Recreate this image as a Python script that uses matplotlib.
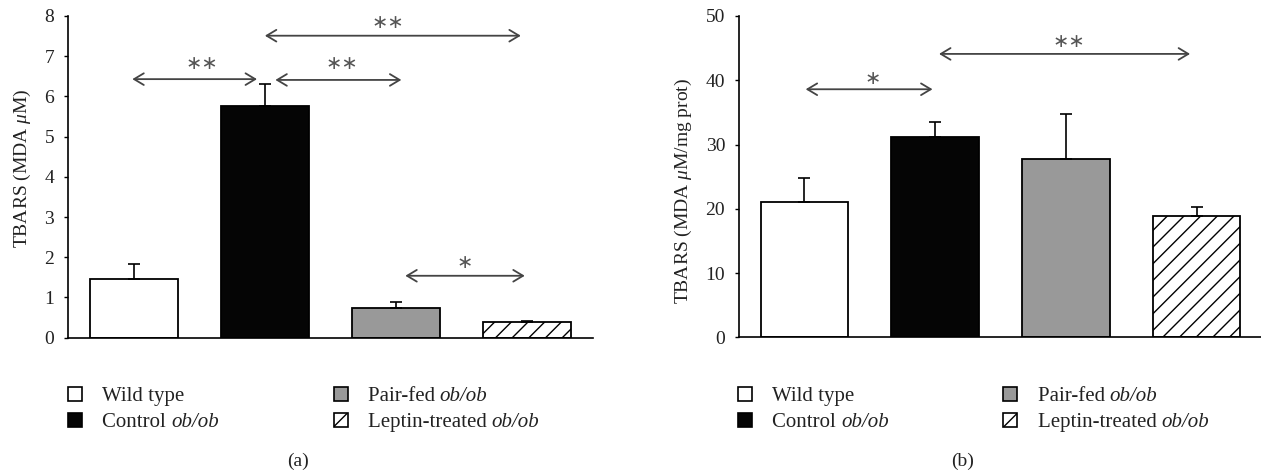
import matplotlib
matplotlib.use("Agg")
import matplotlib.pyplot as plt
from matplotlib.patches import Rectangle
from matplotlib.lines import Line2D
import numpy as np

plt.rcParams["font.family"] = ["Liberation Serif", "DejaVu Serif"]
plt.rcParams["mathtext.fontset"] = "custom"
plt.rcParams["mathtext.rm"] = "Liberation Serif"
plt.rcParams["mathtext.it"] = "Liberation Serif:italic"
plt.rcParams["hatch.linewidth"] = 1.0

groups = ["Wild type", "Control ob/ob", "Pair-fed ob/ob", "Leptin-treated ob/ob"]
# legend text split in upright part and italic part
legend_plain = ["Wild type", "Control ", "Pair-fed ", "Leptin-treated "]
legend_italic = ["", "ob/ob", "ob/ob", "ob/ob"]
face_colors = ["white", "#050505", "#999999", "white"]
hatches = ["", "", "", "//"]

# panel (a): TBARS, MDA uM
tbars_a = [1.46, 5.76, 0.73, 0.40]
err_a = [0.37, 0.56, 0.15, 0.02]
# significance brackets: (x start, x end, y, label, label x, label y)
sig_a = [
    (-0.01, 0.94, 6.43, "∗∗", 0.52, 6.83),
    (1.08, 2.04, 6.41, "∗∗", 1.59, 6.83),
    (1.00, 2.95, 7.51, "∗∗", 1.94, 7.83),
    (2.07, 2.98, 1.54, "∗", 2.52, 1.88),
]

# panel (b): TBARS, MDA uM/mg prot
tbars_b = [21.0, 31.2, 27.7, 18.8]
err_b = [3.8, 2.3, 7.0, 1.5]
sig_b = [
    (0.01, 0.98, 38.6, "∗", 0.52, 40.2),
    (1.03, 2.95, 44.1, "∗∗", 2.02, 46.0),
]


def draw_panel(ax, vals, errs, sigs, ymax, ystep, ylabel, label_xy):
    x = np.arange(len(vals))
    ax.bar(x, vals, width=0.67, color=face_colors, edgecolor="black",
           linewidth=1.3, hatch=hatches, zorder=2)
    ax.errorbar(x, vals, yerr=[np.zeros(len(errs)), errs], fmt="none",
                ecolor="black", elinewidth=1.2, capsize=4, capthick=1.2, zorder=3)
    for x0, x1, y, txt, tx, ty in sigs:
        ax.annotate("", xy=(x1, y), xytext=(x0, y),
                    arrowprops=dict(arrowstyle="<->,head_length=0.5,head_width=0.3",
                                    color="#444444", lw=1.3, shrinkA=0, shrinkB=0,
                                    mutation_scale=14))
        ax.text(tx, ty, txt, ha="center", va="center", fontsize=14,
                color="#555555", family="DejaVu Sans")
    ax.set_xlim(-0.5, 3.5)
    ax.set_ylim(0, ymax)
    ax.set_yticks(np.arange(0, ymax + ystep / 2, ystep))
    ax.set_xticks([])
    ax.spines["top"].set_visible(False)
    ax.spines["right"].set_visible(False)
    ax.spines["left"].set_linewidth(1.2)
    ax.spines["bottom"].set_linewidth(1.2)
    ax.tick_params(axis="y", length=3, width=1.0, pad=7, labelsize=14,
                   labelcolor="#222222")
    ax.set_ylabel(ylabel, fontsize=14, color="#222222")
    ax.yaxis.set_label_coords(*label_xy)


W, H = 1261, 473
fig = plt.figure(figsize=(W / 100, H / 100), dpi=100)

ax_a = fig.add_axes([68 / W, 1 - 337.7 / H, 525 / W, 321.7 / H])
ax_b = fig.add_axes([739 / W, 1 - 337.3 / H, 523 / W, 321.3 / H])

draw_panel(ax_a, tbars_a, err_a, sig_a, 8, 1, r"TBARS (MDA $\it{μ}$M)", (-0.066, 0.527))
draw_panel(ax_b, tbars_b, err_b, sig_b, 50, 10, r"TBARS (MDA $\it{μ}$M/mg prot)", (-0.086, 0.456))

# legends below each panel, drawn by hand
renderer = fig.canvas.get_renderer()
rows_y = [394, 420]
for left in (68, 738):
    for i in range(len(groups)):
        col, row = divmod(i, 2)
        sx = left + col * 265.5
        sy = rows_y[row]
        fig.patches.append(Rectangle((sx / W, 1 - (sy + 7) / H), 14 / W, 14 / H,
                                     transform=fig.transFigure, facecolor=face_colors[i],
                                     edgecolor="black", linewidth=1.2))
        if hatches[i]:
            fig.lines.append(Line2D([(sx + 1) / W, (sx + 13) / W],
                                    [1 - (sy + 6) / H, 1 - (sy - 6) / H],
                                    transform=fig.transFigure, color="black", lw=1.0))
        t = fig.text((sx + 34) / W, 1 - sy / H, legend_plain[i], fontsize=15,
                     va="center_baseline", ha="left", color="#222222")
        if legend_italic[i]:
            bb = t.get_window_extent(renderer)
            fig.text(bb.x1 / W, 1 - sy / H, legend_italic[i], fontsize=15,
                     va="center_baseline", ha="left", style="italic", color="#222222")

fig.text(298 / W, 1 - 461.7 / H, "(a)", fontsize=14, ha="center", va="center", color="#222222")
fig.text(963 / W, 1 - 461.7 / H, "(b)", fontsize=14, ha="center", va="center", color="#222222")

fig.savefig("out.png", dpi=100)
